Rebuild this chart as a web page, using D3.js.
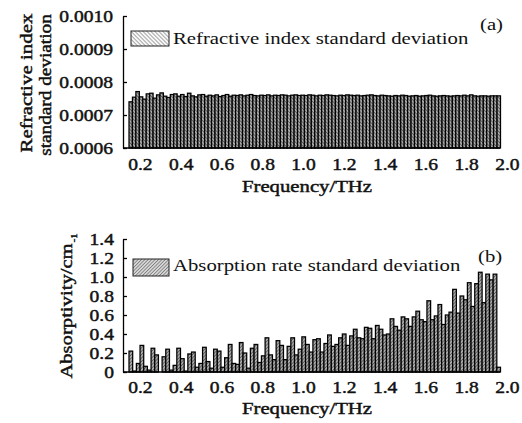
<!DOCTYPE html>
<html>
<head>
<meta charset="utf-8">
<script src="https://cdn.jsdelivr.net/npm/d3@7"></script>
<style>
body{margin:0;background:#fff}
text{font-family:"Liberation Serif","Times New Roman",serif;fill:#111}
.heavy{stroke:#111;stroke-width:0.45px}
</style>
</head>
<body>
<svg id="chart"></svg>
<script>
// values, one bar per frequency sample
var refIndexStd = [
 0.000740,0.000754,0.000771,0.000755,0.000748,0.000764,0.000766,0.000751,0.000761,0.000767,
 0.000757,0.000753,0.000762,0.000764,0.000757,0.000762,0.000756,0.000766,0.000758,0.000755,
 0.000761,0.000762,0.000757,0.000760,0.000758,0.000761,0.000756,0.000759,0.000762,0.000757,
 0.000760,0.000759,0.000761,0.000758,0.000760,0.000762,0.000759,0.000758,0.000760,0.000759,
 0.000761,0.000758,0.000760,0.000759,0.000761,0.000760,0.000758,0.000760,0.000761,0.000759,
 0.000760,0.000759,0.000761,0.000760,0.000758,0.000760,0.000759,0.000761,0.000760,0.000759,
 0.000758,0.000760,0.000759,0.000761,0.000760,0.000759,0.000760,0.000758,0.000759,0.000760,
 0.000761,0.000759,0.000758,0.000760,0.000759,0.000758,0.000757,0.000759,0.000758,0.000760,
 0.000759,0.000757,0.000758,0.000759,0.000757,0.000758,0.000759,0.000760,0.000758,0.000757,
 0.000758,0.000759,0.000758,0.000757,0.000758,0.000759,0.000758,0.000760,0.000758,0.000761,
 0.000758,0.000757,0.000758,0.000758,0.000757,0.000758,0.000758,0.000758]

var absorbStd = [
 0.22,0.01,0.09,0.28,0.06,0.02,0.25,0.18,0.00,0.16,
 0.24,0.02,0.07,0.25,0.14,0.01,0.19,0.21,0.05,0.09,
 0.26,0.11,0.04,0.24,0.22,0.05,0.15,0.29,0.09,0.08,
 0.31,0.20,0.04,0.25,0.29,0.10,0.17,0.36,0.18,0.13,
 0.33,0.28,0.13,0.27,0.36,0.18,0.24,0.37,0.29,0.21,
 0.34,0.35,0.21,0.30,0.39,0.27,0.29,0.36,0.40,0.28,
 0.38,0.45,0.36,0.35,0.47,0.46,0.35,0.49,0.45,0.39,
 0.40,0.56,0.48,0.44,0.58,0.56,0.48,0.58,0.64,0.55,
 0.53,0.75,0.55,0.59,0.71,0.50,0.60,0.63,0.87,0.62,
 0.80,0.76,0.94,0.69,0.93,1.05,0.73,1.03,0.97,1.03,
 0.05]

var freqTicks = [0.2,0.4,0.6,0.8,1.0,1.2,1.4,1.6,1.8,2.0]
var refTicks = [0.0006,0.0007,0.0008,0.0009,0.0010]
var absTicks = [0,0.2,0.4,0.6,0.8,1.0,1.2,1.4]
var freqDomain = [0.117,1.966]

var screen = {width:522, height:423}
var plot = {left:123, right:500, barLeft:129, barRight:500.5}
var sx = 1.22 //glyphs in the reference are wide

var svg = d3.select("#chart")
  .attr("width", screen.width)
  .attr("height", screen.height)

//hatch patterns
var defs = svg.append("defs")
var addHatch = function(id, angle, bg, line, size)
{
  var p = defs.append("pattern")
    .attr("id", id)
    .attr("patternUnits","userSpaceOnUse")
    .attr("width", size).attr("height", size)
    .attr("patternTransform","rotate("+angle+")")
  p.append("rect").attr("width",size).attr("height",size).attr("fill",bg)
  p.append("line").attr("x1",0).attr("y1",0).attr("x2",0).attr("y2",size)
    .attr("stroke",line).attr("stroke-width",1.1)
}
addHatch("legA", -45, "#f6f6f6", "#666", 2.8)
addHatch("legB", 45, "#d6d6d6", "#555", 2.4)
addHatch("barA", -45, "#aaa", "#333", 2.4)
addHatch("barB", 45, "#aaa", "#333", 2.4)

var xFreq = d3.scaleLinear().domain(freqDomain).range([plot.left, plot.right])

var stretchText = function(sel)
{
  sel.each(function(){
    var t = d3.select(this)
    var x = +t.attr("x") || 0
    t.attr("x", x/sx).attr("transform","scale("+sx+",1)")
  })
}

var panel = function(cfg)
{
  var g = svg.append("g")
  var y = d3.scaleLinear().domain(cfg.domain).range([cfg.bottom, cfg.top])
  var x = d3.scaleBand().domain(d3.range(cfg.values.length))
    .range([plot.barLeft, plot.barRight]).padding(0)

  g.append("g").selectAll("rect")
    .data(cfg.values)
    .enter().append("rect")
    .attr("x", function(d,i){return x(i)})
    .attr("width", x.bandwidth())
    .attr("y", function(d){return y(d)})
    .attr("height", function(d){return y(cfg.domain[0]) - y(d)})
    .attr("fill","url(#"+cfg.barPattern+")")
    .attr("stroke","#000")
    .attr("stroke-width",1.25)

  //baseline
  g.append("line")
    .attr("x1", plot.left).attr("x2", plot.right)
    .attr("y1", cfg.bottom).attr("y2", cfg.bottom)
    .attr("stroke","#000").attr("stroke-width",1.3)

  var yAxis = d3.axisLeft(y).tickValues(cfg.ticks).tickFormat(cfg.format)
    .tickSizeInner(-4).tickSizeOuter(0).tickPadding(cfg.pad)
  var ya = g.append("g")
    .attr("transform","translate("+plot.left+",0)")
    .call(yAxis)
  ya.selectAll("path,line").attr("stroke","#000").attr("stroke-width",1.3)
  ya.selectAll("text").attr("font-size",16).attr("font-family",null)
    .attr("class","heavy").call(stretchText)

  var xAxis = d3.axisBottom(xFreq).tickValues(freqTicks)
    .tickFormat(d3.format(".1f")).tickSize(0).tickPadding(cfg.xpad)
  var xa = g.append("g")
    .attr("transform","translate(0,"+cfg.bottom+")")
    .call(xAxis)
  xa.select(".domain").remove()
  xa.selectAll("text").attr("font-size",16).attr("font-family",null)
    .attr("class","heavy").call(stretchText)

  g.append("text")
    .attr("class","heavy")
    .attr("transform","translate(307,"+cfg.titleY+") scale("+sx+",1)")
    .attr("text-anchor","middle")
    .attr("font-size",17)
    .text("Frequency/THz")

  //legend
  g.append("rect")
    .attr("x", cfg.legend.x).attr("y", cfg.legend.y)
    .attr("width", cfg.legend.w).attr("height", cfg.legend.h)
    .attr("fill","url(#"+cfg.legPattern+")")
    .attr("stroke","#222").attr("stroke-width",1)
  g.append("text")
    .attr("transform","translate("+(cfg.legend.x+cfg.legend.w+4)+","+cfg.legend.base+") scale("+sx+",1)")
    .attr("font-size",17)
    .text(cfg.legendText)

  g.append("text")
    .attr("transform","translate("+cfg.tag.x+","+cfg.tag.y+") scale("+sx+",1)")
    .attr("font-size",17)
    .text(cfg.tagText)
  return g
}

var pa = panel({
  values: refIndexStd, domain:[0.0006,0.0010], ticks: refTicks,
  format: d3.format(".4f"), top:16, bottom:148, pad:10, xpad:11,
  barPattern:"barA", legPattern:"legA", titleY:192,
  legend:{x:131, y:31, w:38, h:15, base:44},
  legendText:"Refractive index standard deviation",
  tag:{x:480, y:30}, tagText:"(a)"
})

var pb = panel({
  values: absorbStd, domain:[0,1.4], ticks: absTicks,
  format: function(d){return d === 0 ? "0" : d3.format(".1f")(d)},
  top:239, bottom:372, pad:9, xpad:10,
  barPattern:"barB", legPattern:"legB", titleY:414,
  legend:{x:133, y:259, w:36, h:17, base:271},
  legendText:"Absorption rate standard deviation",
  tag:{x:478, y:262}, tagText:"(b)"
})

//rotated y titles
pa.append("text")
  .attr("class","heavy")
  .attr("transform","translate(32,83) rotate(-90) scale(1.2,1)")
  .attr("text-anchor","middle").attr("font-size",17.5)
  .text("Refractive index")
pa.append("text")
  .attr("class","heavy")
  .attr("transform","translate(51,85) rotate(-90) scale(1.1,1)")
  .attr("text-anchor","middle").attr("font-size",17.5)
  .text("standard deviation")

var lb = pb.append("text")
  .attr("class","heavy")
  .attr("transform","translate(72,306) rotate(-90) scale(1.18,1)")
  .attr("text-anchor","middle").attr("font-size",17.5)
lb.append("tspan").text("Absorptivity/cm")
lb.append("tspan").attr("font-size",9).attr("dy",5).attr("dx",1).text("-1")
</script>
</body>
</html>
